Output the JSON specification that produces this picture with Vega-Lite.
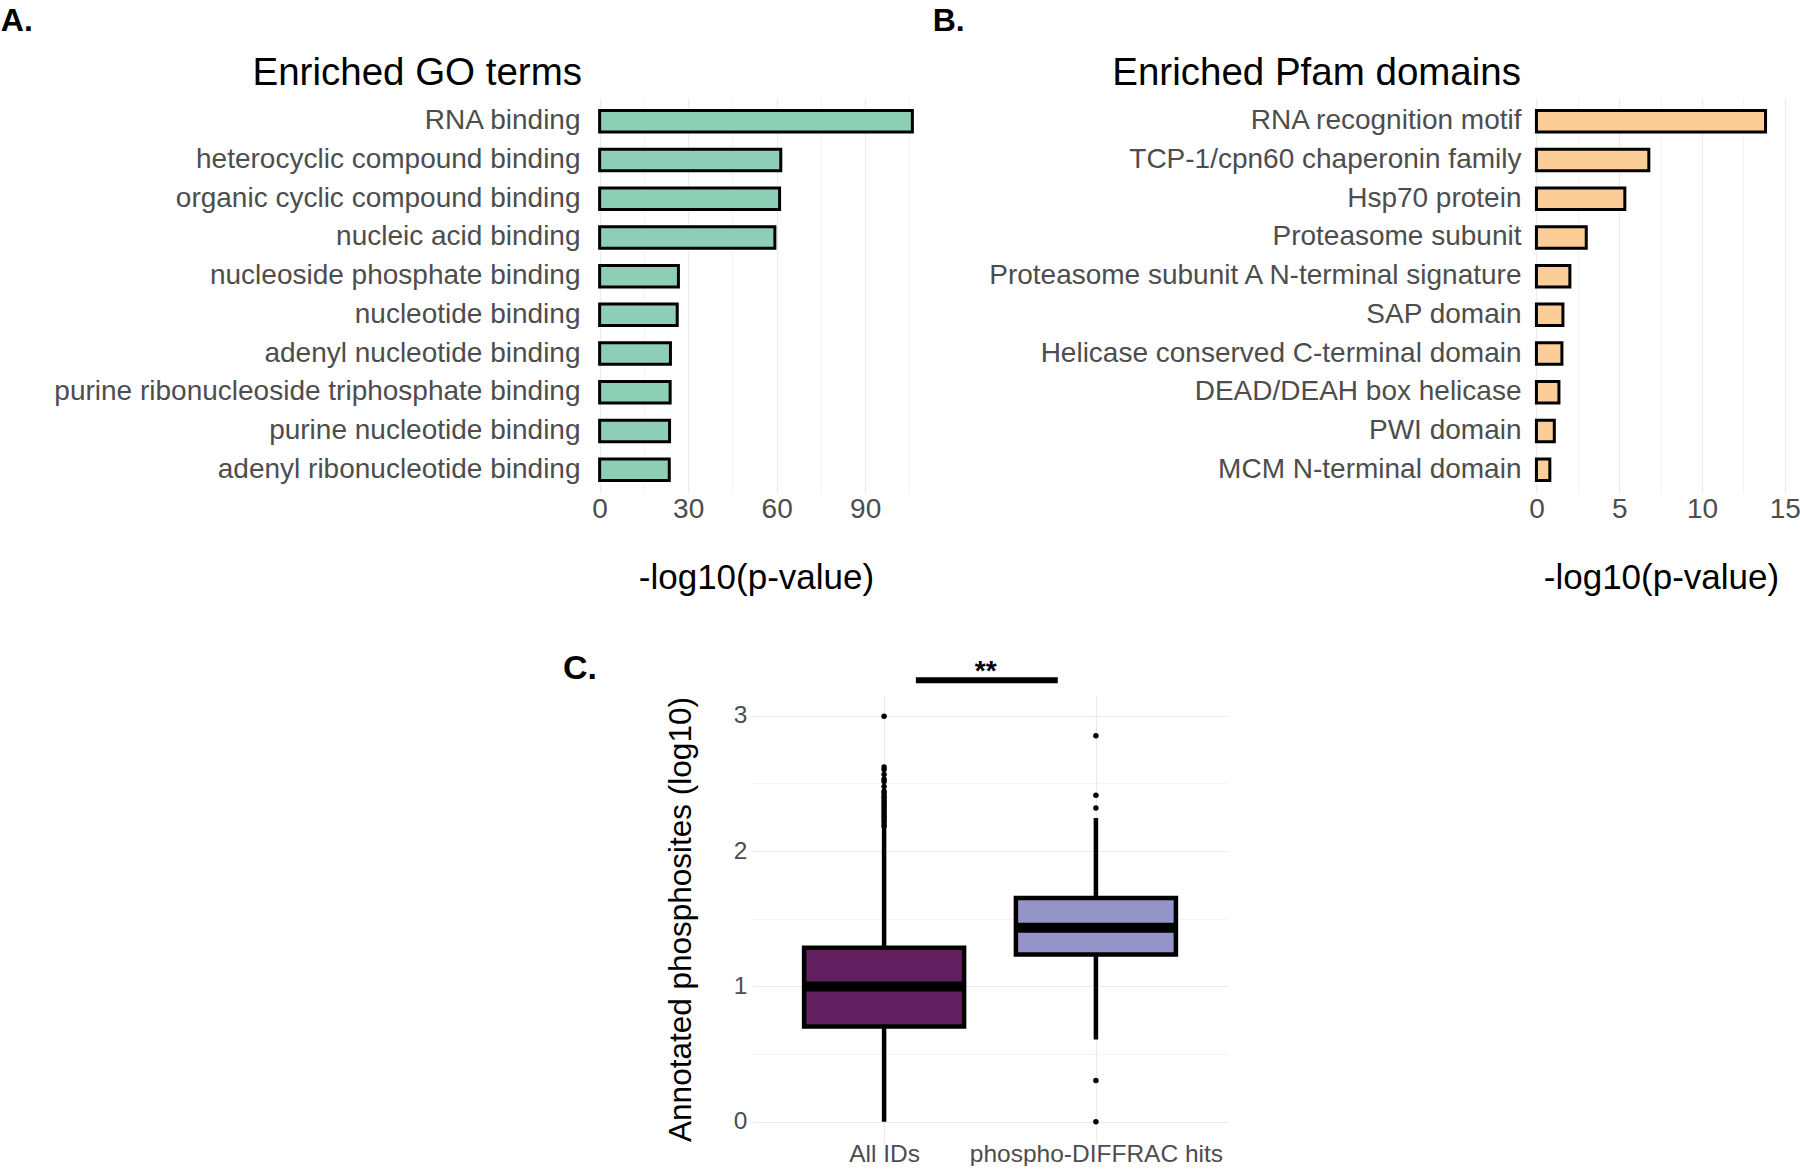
{
  "$schema": "https://vega.github.io/schema/vega-lite/v6.json",
  "padding": {"left": 0, "top": 4, "right": 0, "bottom": 0},
  "background": "white",
  "config": {
    "font": "Liberation Sans",
    "view": {"stroke": null},
    "axis": {"domain": false, "ticks": false, "labelColor": "#4d4d4d", "titleColor": "#000000", "titleFontWeight": "normal", "gridColor": "#ebebeb", "labelFlush": false, "labelOverlap": false, "labelLimit": 0},
    "title": {"color": "#000000"}
  },
  "datasets": {
    "go": [
      {"term": "RNA binding", "value": 106.0},
      {"term": "heterocyclic compound binding", "value": 61.4},
      {"term": "organic cyclic compound binding", "value": 61.0},
      {"term": "nucleic acid binding", "value": 59.4},
      {"term": "nucleoside phosphate binding", "value": 26.7},
      {"term": "nucleotide binding", "value": 26.3},
      {"term": "adenyl nucleotide binding", "value": 24.0},
      {"term": "purine ribonucleoside triphosphate binding", "value": 23.9},
      {"term": "purine nucleotide binding", "value": 23.7},
      {"term": "adenyl ribonucleotide binding", "value": 23.6}
    ],
    "pfam": [
      {"term": "RNA recognition motif", "value": 13.84},
      {"term": "TCP-1/cpn60 chaperonin family", "value": 6.79},
      {"term": "Hsp70 protein", "value": 5.34},
      {"term": "Proteasome subunit", "value": 3.01},
      {"term": "Proteasome subunit A N-terminal signature", "value": 2.02},
      {"term": "SAP domain", "value": 1.60},
      {"term": "Helicase conserved C-terminal domain", "value": 1.54},
      {"term": "DEAD/DEAH box helicase", "value": 1.36},
      {"term": "PWI domain", "value": 1.08},
      {"term": "MCM N-terminal domain", "value": 0.81}
    ],
    "box": [
      {"group": "All IDs", "idx": 1, "lower": 0.0, "q1": 0.704, "median": 1.0, "q3": 1.285, "upper": 2.17},
      {"group": "phospho-DIFFRAC hits", "idx": 2, "lower": 0.608, "q1": 1.236, "median": 1.433, "q3": 1.654, "upper": 2.245}
    ],
    "outliers": [
      {"group": "All IDs", "idx": 1, "value": 2.183},
      {"group": "All IDs", "idx": 1, "value": 2.20},
      {"group": "All IDs", "idx": 1, "value": 2.22},
      {"group": "All IDs", "idx": 1, "value": 2.24},
      {"group": "All IDs", "idx": 1, "value": 2.257},
      {"group": "All IDs", "idx": 1, "value": 2.275},
      {"group": "All IDs", "idx": 1, "value": 2.294},
      {"group": "All IDs", "idx": 1, "value": 2.312},
      {"group": "All IDs", "idx": 1, "value": 2.331},
      {"group": "All IDs", "idx": 1, "value": 2.35},
      {"group": "All IDs", "idx": 1, "value": 2.368},
      {"group": "All IDs", "idx": 1, "value": 2.387},
      {"group": "All IDs", "idx": 1, "value": 2.405},
      {"group": "All IDs", "idx": 1, "value": 2.425},
      {"group": "All IDs", "idx": 1, "value": 2.442},
      {"group": "All IDs", "idx": 1, "value": 2.477},
      {"group": "All IDs", "idx": 1, "value": 2.515},
      {"group": "All IDs", "idx": 1, "value": 2.531},
      {"group": "All IDs", "idx": 1, "value": 2.566},
      {"group": "All IDs", "idx": 1, "value": 2.602},
      {"group": "All IDs", "idx": 1, "value": 2.622},
      {"group": "All IDs", "idx": 1, "value": 2.996},
      {"group": "phospho-DIFFRAC hits", "idx": 2, "value": 2.853},
      {"group": "phospho-DIFFRAC hits", "idx": 2, "value": 2.412},
      {"group": "phospho-DIFFRAC hits", "idx": 2, "value": 2.319},
      {"group": "phospho-DIFFRAC hits", "idx": 2, "value": 0.305},
      {"group": "phospho-DIFFRAC hits", "idx": 2, "value": 0.0}
    ],
    "signif": [
      {"from": 1.15, "to": 1.82, "at": 1.48, "y": 3.263, "label": "**"}
    ]
  },
  "vconcat": [
    {
      "hconcat": [
        {
          "title": {"text": "A.", "anchor": "start", "frame": "bounds", "fontSize": 32, "fontWeight": "bold", "baseline": "alphabetic", "dx": -53, "offset": -9},
          "vconcat": [
            {
              "width": 344,
              "height": 395,
              "title": {"text": "Enriched GO terms", "anchor": "start", "frame": "group", "align": "right", "dx": -2, "fontSize": 38.5, "fontWeight": "normal", "baseline": "alphabetic", "offset": -25},
              "data": {"name": "go"},
              "mark": {"type": "bar", "fill": "#8ccfb6", "stroke": "black", "strokeWidth": 3},
              "encoding": {
                "y": {"field": "term", "type": "nominal", "sort": "-x", "scale": {"paddingInner": 0.445, "paddingOuter": 0.3225}, "axis": {"title": null, "labelFontSize": 28, "labelPadding": 4, "bandPosition": 0.5, "gridWidth": 1.2}},
                "x": {"field": "value", "type": "quantitative", "scale": {"domain": [-5.3, 111.3], "nice": false, "zero": false}, "axis": {"title": "-log10(p-value)", "values": [0, 15, 30, 45, 60, 75, 90, 105], "labelExpr": "datum.value % 30 === 0 ? datum.label : ''", "gridWidth": {"condition": {"test": "datum.value % 30 === 0", "value": 1.2}, "value": 0.6}, "labelFontSize": 28, "labelPadding": 2, "titleFontSize": 35, "titlePadding": 37}},
                "x2": {"datum": 0}
              }
            }
          ]
        },
        {
          "title": {"text": "B.", "anchor": "start", "frame": "bounds", "fontSize": 32, "fontWeight": "bold", "baseline": "alphabetic", "dx": -53, "offset": -9},
          "vconcat": [
            {
              "width": 272,
              "height": 395,
              "title": {"text": "Enriched Pfam domains", "anchor": "start", "frame": "group", "align": "right", "dx": -4, "fontSize": 38.5, "fontWeight": "normal", "baseline": "alphabetic", "offset": -25},
              "data": {"name": "pfam"},
              "mark": {"type": "bar", "fill": "#fdcd98", "stroke": "black", "strokeWidth": 3},
              "encoding": {
                "y": {"field": "term", "type": "nominal", "sort": "-x", "scale": {"paddingInner": 0.445, "paddingOuter": 0.3225}, "axis": {"title": null, "labelFontSize": 28, "labelPadding": 4, "bandPosition": 0.5, "gridWidth": 1.2}},
                "x": {"field": "value", "type": "quantitative", "scale": {"domain": [-0.69, 15.74], "nice": false, "zero": false}, "axis": {"title": "-log10(p-value)", "values": [0, 2.5, 5, 7.5, 10, 12.5, 15], "labelExpr": "datum.value % 5 === 0 ? datum.label : ''", "gridWidth": {"condition": {"test": "datum.value % 5 === 0", "value": 1.2}, "value": 0.6}, "labelFontSize": 28, "labelPadding": 2, "titleFontSize": 35, "titlePadding": 37}},
                "x2": {"datum": 0}
              }
            }
          ]
        }
      ],
      "spacing": 4
    },
    {
      "hconcat": [
        {
          "width": 13,
          "height": 1,
          "title": {"text": "C.", "anchor": "end", "frame": "group", "align": "right", "fontSize": 34, "fontWeight": "bold", "baseline": "top", "offset": 10},
          "data": {"values": []},
          "mark": "point"
        },
        {
          "width": 476,
          "height": 446,
          "encoding": {
            "x": {"field": "idx", "type": "quantitative", "scale": {"domain": [0.4, 2.6], "nice": false, "zero": false}, "axis": {"title": null, "values": [1, 2], "labelExpr": "datum.value === 1 ? 'All IDs' : 'phospho-DIFFRAC hits'", "labelFontSize": 24.5, "labelPadding": 0, "gridWidth": 1.2}}
          },
          "layer": [
            {
              "data": {"name": "box"},
              "mark": {"type": "rule", "strokeWidth": 4.5, "color": "black"},
              "encoding": {
                "y": {"field": "lower", "type": "quantitative", "scale": {"domain": [-0.15, 3.146], "nice": false, "zero": false}, "axis": {"title": "Annotated phosphosites (log10)", "values": [0, 0.5, 1, 1.5, 2, 2.5, 3], "labelExpr": "datum.value % 1 === 0 ? format(datum.value, 'd') : ''", "gridWidth": {"condition": {"test": "datum.value % 1 === 0", "value": 1.2}, "value": 0.6}, "labelFontSize": 24.5, "labelPadding": 5, "titleFontSize": 31.5, "titlePadding": 36}},
                "y2": {"field": "upper"}
              }
            },
            {
              "data": {"name": "box"},
              "mark": {"type": "bar", "width": 160, "stroke": "black", "strokeWidth": 4.5, "opacity": 1},
              "encoding": {
                "y": {"field": "q1", "type": "quantitative"},
                "y2": {"field": "q3"},
                "color": {"field": "group", "type": "nominal", "scale": {"domain": ["All IDs", "phospho-DIFFRAC hits"], "range": ["#621f5f", "#9594c8"]}, "legend": null}
              }
            },
            {
              "data": {"name": "box"},
              "mark": {"type": "tick", "orient": "horizontal", "size": 162, "thickness": 10, "color": "black", "opacity": 1},
              "encoding": {
                "y": {"field": "median", "type": "quantitative"}
              }
            },
            {
              "data": {"name": "outliers"},
              "mark": {"type": "circle", "size": 30, "color": "black", "opacity": 1},
              "encoding": {
                "y": {"field": "value", "type": "quantitative"}
              }
            },
            {
              "data": {"name": "signif"},
              "mark": {"type": "rule", "strokeWidth": 6, "color": "black"},
              "encoding": {
                "x": {"field": "from", "type": "quantitative"},
                "x2": {"field": "to"},
                "y": {"field": "y", "type": "quantitative"}
              }
            },
            {
              "data": {"name": "signif"},
              "mark": {"type": "text", "fontSize": 28, "fontWeight": "bold", "baseline": "alphabetic", "color": "black"},
              "encoding": {
                "x": {"field": "at", "type": "quantitative"},
                "y": {"field": "y", "type": "quantitative"},
                "text": {"field": "label"}
              }
            }
          ]
        }
      ],
      "spacing": 68
    }
  ],
  "spacing": 57
}
